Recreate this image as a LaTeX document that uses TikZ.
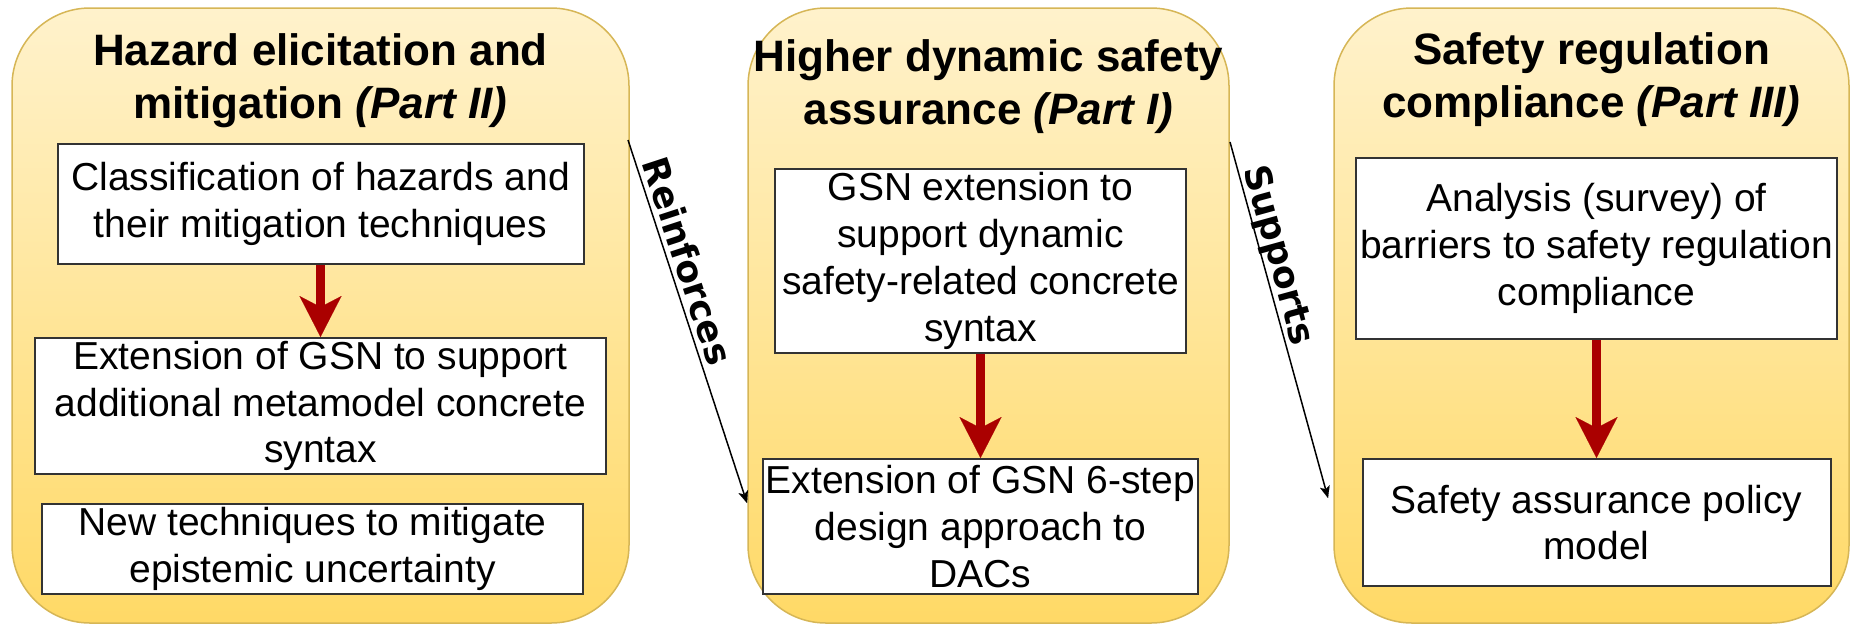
\documentclass[tikz,border=0pt]{standalone}
\usepackage{fontspec}
\setmainfont{Liberation Sans}
\newfontfamily\labelfont{DejaVu Sans}
\usetikzlibrary{arrows.meta}
\definecolor{panelborder}{HTML}{D6B656}
\definecolor{paneltop}{HTML}{FFF2CC}
\definecolor{panelbottom}{HTML}{FFD966}
\definecolor{arrred}{HTML}{AA0000}
\definecolor{boxborder}{HTML}{333333}
\begin{document}
\begin{tikzpicture}[x=1pt,y=-1pt,
  panel/.style={draw=panelborder, line width=1.5pt, rounded corners=78pt,
    top color=paneltop, bottom color=panelbottom, inner sep=0pt,
    minimum height=615pt},
  ptitle/.style={align=center, inner sep=0pt,
    font=\fontsize{44}{53}\selectfont\bfseries},
  box/.style={draw=boxborder, line width=2pt, fill=white, align=center,
    inner sep=0pt, font=\fontsize{39}{46.8}\selectfont},
  redarrow/.style={draw=arrred, line width=8.5pt,
    -{Stealth[length=41pt, width=42pt, inset=11pt, line width=0.1pt, fill=arrred]}},
  blkarrow/.style={draw=black, line width=1.5pt,
    -{Stealth[length=12pt, width=10pt, inset=3pt, line width=0.1pt]}},
  lbl/.style={sloped, anchor=base, inner sep=0pt,
    font=\labelfont\bfseries\fontsize{36}{40}\selectfont}
]
\useasboundingbox (0,0) rectangle (1851,625);

% panels
\node[panel, minimum width=617pt] (P1) at (320.5,315.5) {};
\node[panel, minimum width=481pt] (P2) at (988.5,315.5) {};
\node[panel, minimum width=515pt] (P3) at (1591.5,315.5) {};

% titles
\node[ptitle] (T1) at (320.5,81) {Hazard elicitation and\\mitigation \textit{(Part II)}};
\node[ptitle] (T2) at (988.5,87) {Higher dynamic safety\\assurance \textit{(Part I)}};
\node[ptitle] (T3) at (1591.5,80) {Safety regulation\\compliance \textit{(Part III)}};

% left boxes
\node[box, minimum width=526pt, minimum height=120pt] (L1) at (320.5,204)
  {Classification of hazards and\\their mitigation techniques};
\node[box, minimum width=571pt, minimum height=136pt] (L2) at (320.5,406)
  {Extension of GSN to support\\additional metamodel concrete\\syntax};
\node[box, minimum width=541pt, minimum height=90pt] (L3) at (312.5,549)
  {New techniques to mitigate\\epistemic uncertainty};

% middle boxes
\node[box, minimum width=411pt, minimum height=184pt] (M1) at (980.5,261)
  {GSN extension to\\support dynamic\\safety-related concrete\\syntax};
\node[box, minimum width=435pt, minimum height=135pt] (M2) at (980.5,526.5)
  {Extension of GSN 6-step\\design approach to\\DACs};

% right boxes
\node[box, minimum width=481pt, minimum height=181pt] (R1) at (1596.5,248.5)
  {Analysis (survey) of\\barriers to safety regulation\\compliance};
\node[box, minimum width=468pt, minimum height=127pt] (R2) at (1596.5,522.5)
  {Safety assurance policy\\model};

% red arrows
\draw[redarrow] (L1.south) -- (L2.north);
\draw[redarrow] (M1.south) -- (M2.north);
\draw[redarrow] (R1.south) -- (R2.north);

% black connectors
\coordinate (rs) at (628,140);
\coordinate (re) at (747,503);
\coordinate (ss) at (1230,142);
\coordinate (se) at (1328,498);
\draw[blkarrow] (rs) -- node[lbl, pos=0.35] {\raisebox{6pt}{Reinforces}} (re);
\draw[blkarrow] (ss) -- node[lbl, pos=0.33] {\raisebox{6pt}{Supports}} (se);
\end{tikzpicture}
\end{document}
